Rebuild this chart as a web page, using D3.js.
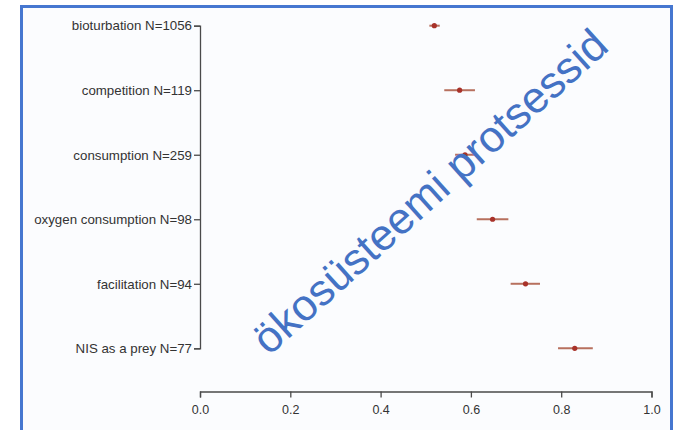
<!DOCTYPE html>
<html>
<head>
<meta charset="utf-8">
<script src="https://cdn.jsdelivr.net/npm/d3@7"></script>
<style>
  body { margin: 0; background: #fff; }
  svg { display: block; font-family: "Liberation Sans", Arial, sans-serif; }
</style>
</head>
<body>
<svg id="chart" width="684" height="430"></svg>
<script>
// effect categories (top to bottom) with sample size
const categories = ['bioturbation N=1056', 'competition N=119', 'consumption N=259',
  'oxygen consumption N=98', 'facilitation N=94', 'NIS as a prey N=77'];
const estimate = [0.519, 0.575, 0.587, 0.648, 0.721, 0.830];
const lower = [0.508, 0.541, 0.565, 0.613, 0.688, 0.793];
const upper = [0.531, 0.609, 0.613, 0.683, 0.753, 0.870];
const xTicks = [0, 0.2, 0.4, 0.6, 0.8, 1.0];
const watermark = 'ökosüsteemi protsessid';

const svg = d3.select('#chart');

// slide frame
svg.append('rect')
  .attr('x', 21.5).attr('y', 6.5)
  .attr('width', 650).attr('height', 440)
  .attr('fill', '#fbfcfe')
  .attr('stroke', '#4677d0')
  .attr('stroke-width', 3);

const x = d3.scaleLinear().domain([0, 1]).range([200, 651.5]);
const y = d3.scalePoint().domain(categories).range([25.7, 348.3]);

const xAxis = svg.append('g')
  .attr('transform', 'translate(0,391.5)')
  .call(d3.axisBottom(x).tickValues(xTicks).tickFormat(d3.format('.1f'))
    .tickSizeOuter(0).tickSize(6).tickPadding(8));

const yAxis = svg.append('g')
  .attr('transform', 'translate(200,0)')
  .call(d3.axisLeft(y).tickSizeOuter(0).tickSize(6).tickPadding(2));

[xAxis, yAxis].forEach(g => {
  g.selectAll('path, line').attr('stroke', '#4a4a4a').attr('stroke-width', 1.3);
  g.selectAll('text').attr('fill', '#333').style('font-family', '"Liberation Sans", Arial, sans-serif');
});
xAxis.selectAll('text').style('font-size', '12.5px');
yAxis.selectAll('text').style('font-size', '13.3px');

const rows = categories.map((c, i) => ({c, est: estimate[i], lo: lower[i], hi: upper[i]}));

svg.append('g').selectAll('line')
  .data(rows).join('line')
  .attr('x1', d => x(d.lo)).attr('x2', d => x(d.hi))
  .attr('y1', d => y(d.c)).attr('y2', d => y(d.c))
  .attr('stroke', '#b7705e').attr('stroke-width', 2);

svg.append('g').selectAll('circle')
  .data(rows).join('circle')
  .attr('cx', d => x(d.est)).attr('cy', d => y(d.c))
  .attr('r', 2.6)
  .attr('fill', '#a8322a');

// diagonal watermark
svg.append('text')
  .attr('transform', 'translate(432,194) rotate(-42)')
  .attr('text-anchor', 'middle')
  .attr('dominant-baseline', 'middle')
  .attr('fill', '#4472c4')
  .style('font-size', '44px')
  .style('font-family', '"Liberation Sans", Arial, sans-serif')
  .text(watermark);
</script>
</body>
</html>
